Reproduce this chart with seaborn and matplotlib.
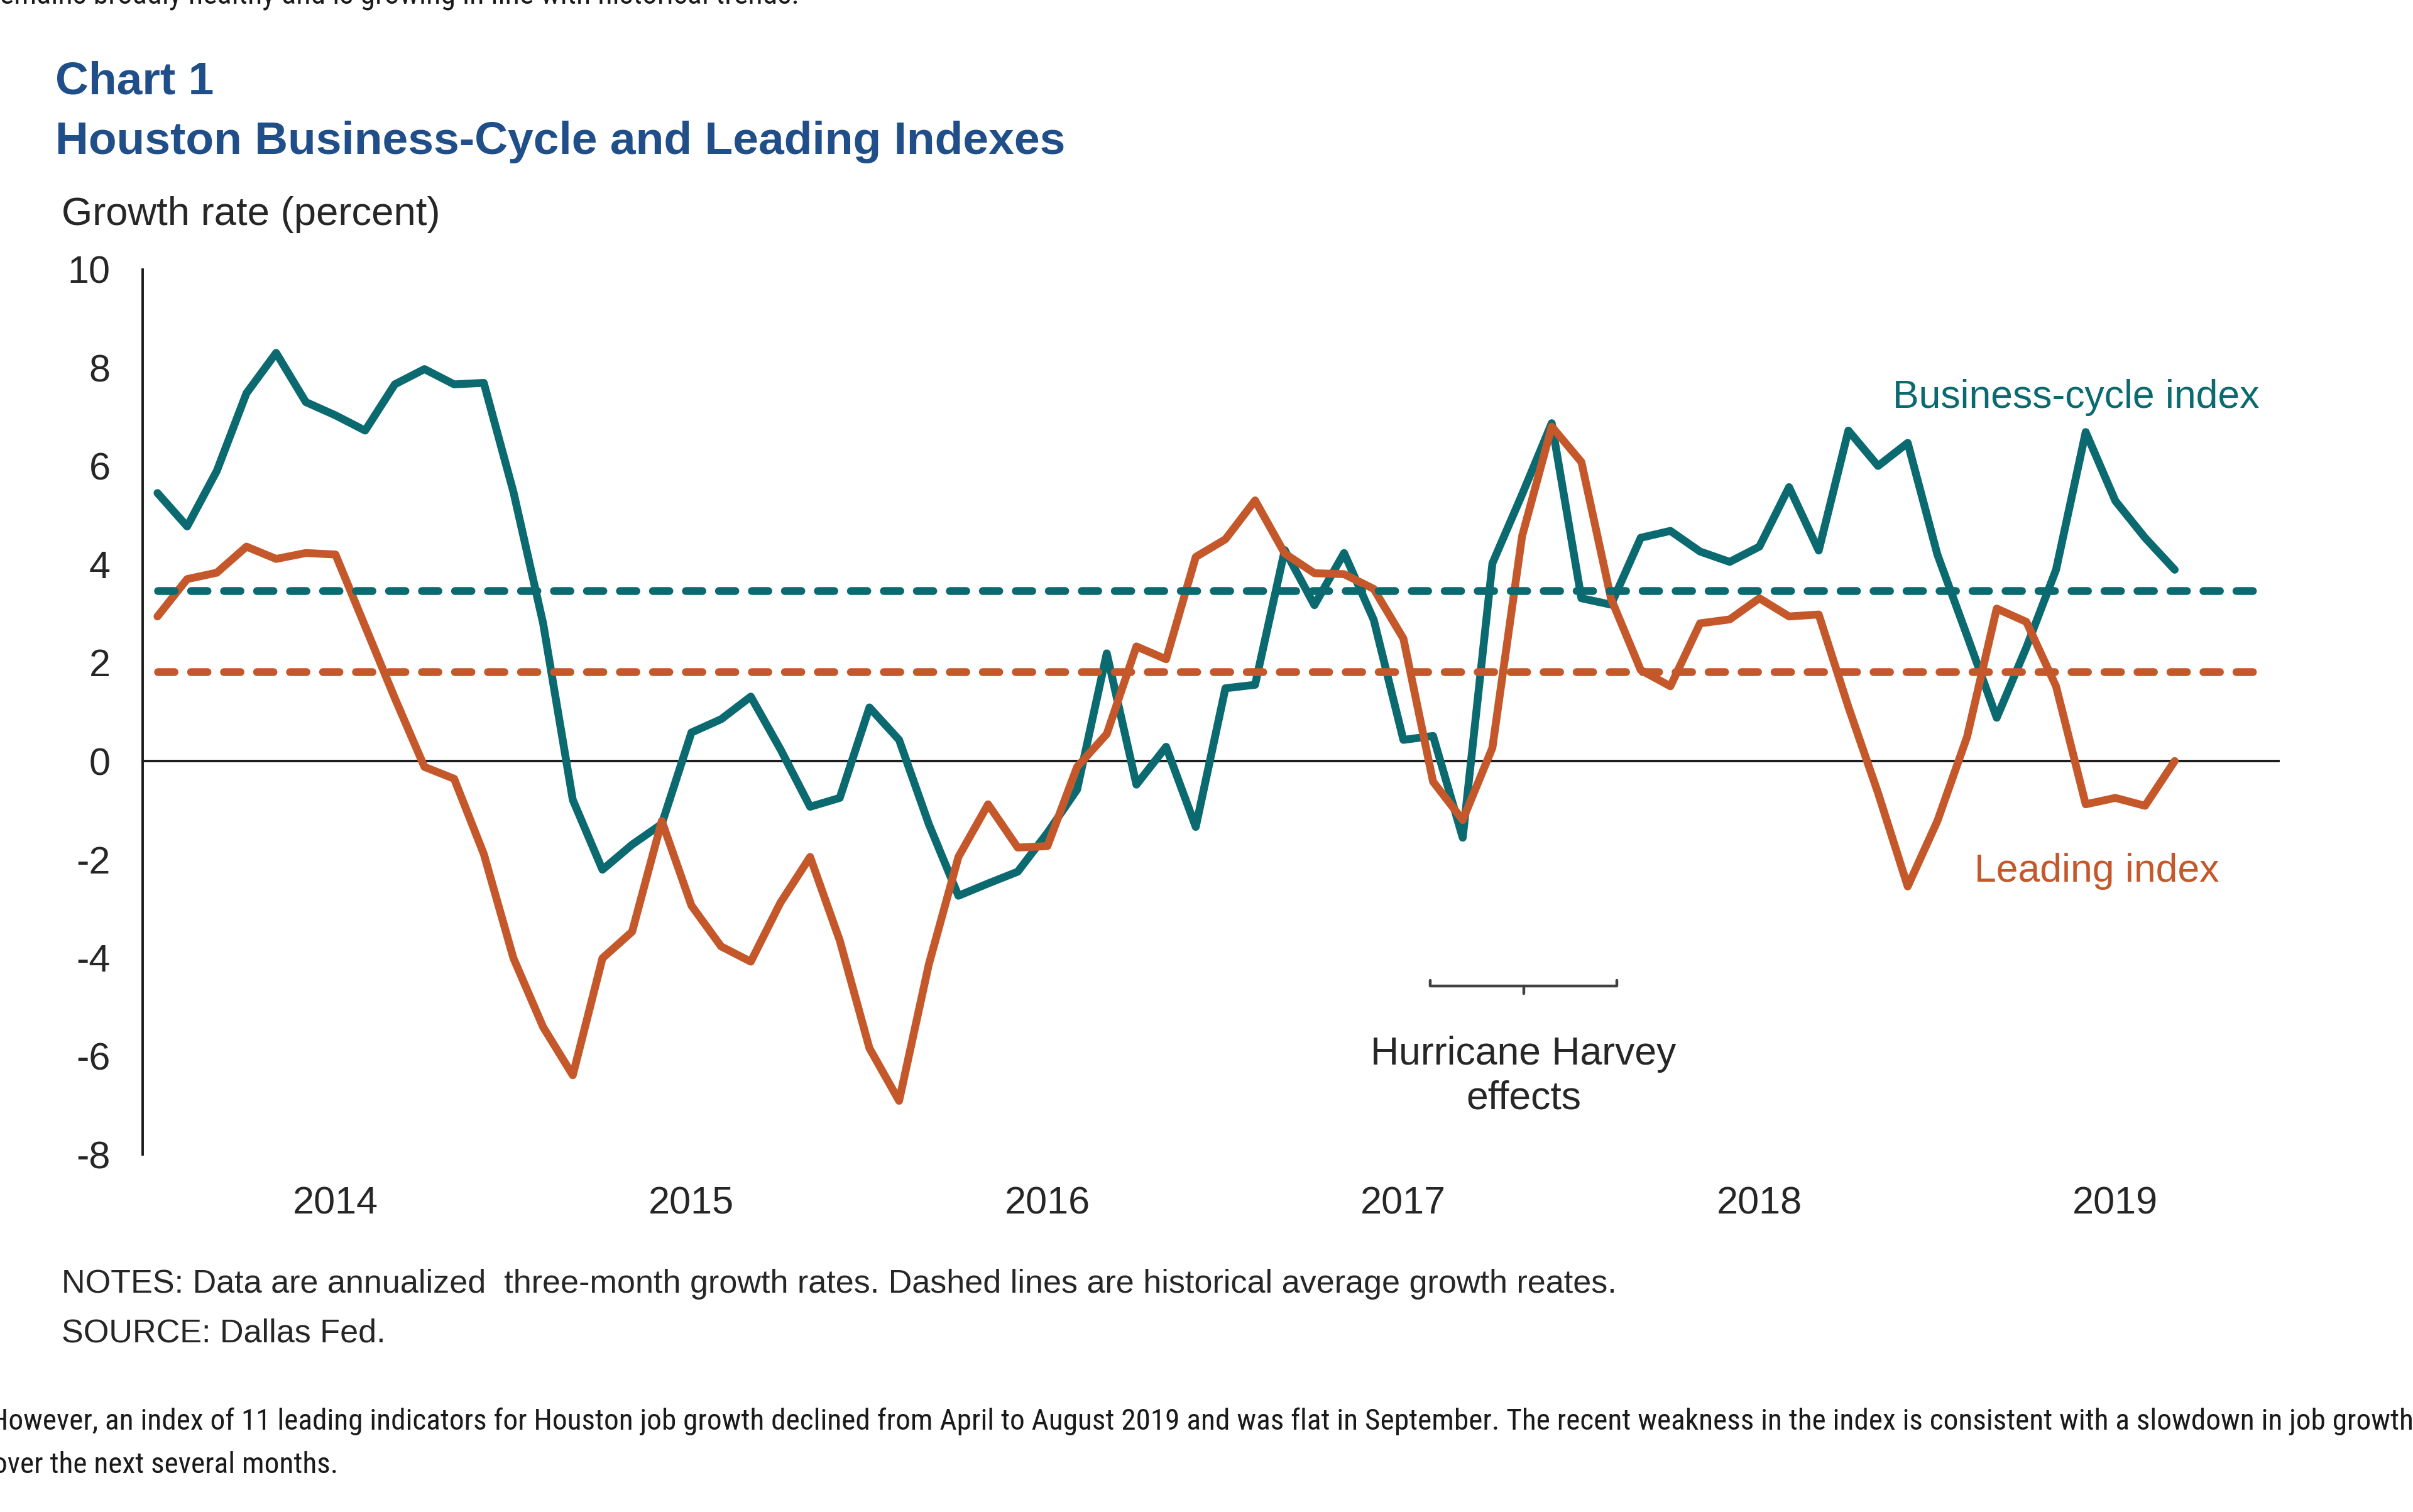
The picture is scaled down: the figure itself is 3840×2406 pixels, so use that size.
import numpy as np
import pandas as pd
import matplotlib
matplotlib.use("Agg")
import matplotlib.pyplot as plt
import matplotlib.font_manager as fm
import seaborn as sns

# ---------------- data (monthly, Jan 2014 - Sep 2019) ----------------
start_month = "2014-01"
business_cycle = [
    5.45, 4.77, 5.90, 7.48, 8.30, 7.30, 7.03, 6.72, 7.66, 7.97, 7.66, 7.69,
    5.47, 2.80, -0.79, -2.21, -1.70, -1.28, 0.58, 0.85, 1.31, 0.24, -0.93, -0.75,
    1.09, 0.43, -1.28, -2.74, -2.49, -2.25, -1.46, -0.58, 2.19, -0.48, 0.29, -1.34,
    1.48, 1.55, 4.29, 3.17, 4.23, 2.87, 0.43, 0.51, -1.56, 4.02, 5.42, 6.87,
    3.31, 3.18, 4.54, 4.68, 4.26, 4.05, 4.36, 5.57, 4.28, 6.72, 6.00, 6.47,
    4.20, 2.55, 0.88, 2.31, 3.89, 6.69, 5.29, 4.54, 3.89,
]
leading = [
    2.94, 3.70, 3.83, 4.36, 4.11, 4.23, 4.20, 2.74, 1.28, -0.12, -0.36, -1.89,
    -4.01, -5.41, -6.39, -4.01, -3.47, -1.22, -2.94, -3.77, -4.08, -2.88, -1.95, -3.65,
    -5.84, -6.91, -4.14, -1.95, -0.88, -1.76, -1.73, -0.12, 0.55, 2.33, 2.07, 4.15,
    4.51, 5.30, 4.22, 3.82, 3.80, 3.50, 2.49, -0.42, -1.20, 0.27, 4.57, 6.80,
    6.08, 3.30, 1.85, 1.52, 2.80, 2.88, 3.31, 2.94, 2.98, 1.10, -0.65, -2.55,
    -1.22, 0.49, 3.10, 2.83, 1.52, -0.88, -0.75, -0.91, 0.00,
]
business_cycle_avg = 3.46
leading_avg = 1.81
years = ["2014", "2015", "2016", "2017", "2018", "2019"]
y_ticks = [-8, -6, -4, -2, 0, 2, 4, 6, 8, 10]
harvey_start, harvey_end = 43.4, 49.7   # months from Jan 2014 (bracket span)

series_names = ["Business-cycle index", "Leading index"]
colors = {"Business-cycle index": "#0a6a70", "Leading index": "#c5582a"}
navy = "#1f4e89"
text_dark = "#262626"

# ---------------- figure ----------------
sns.set_style("white")
plt.rcParams["font.family"] = ["Liberation Sans", "DejaVu Sans"]
plt.rcParams["axes.unicode_minus"] = False

W, H, DPI = 3840, 2406, 200
fig = plt.figure(figsize=(W / DPI, H / DPI), dpi=DPI)
fig.patch.set_facecolor("white")

ax = fig.add_axes([227 / W, 1 - 1837 / H, (3626 - 227) / W, (1837 - 428.5) / H])
ax.set_facecolor("white")

n_months = len(business_cycle)
n_cat = 12 * len(years)
pos = np.arange(n_months) + 0.5
df = pd.DataFrame({"pos": pos,
                   "Business-cycle index": business_cycle,
                   "Leading index": leading})
long = df.melt(id_vars="pos", var_name="series", value_name="value")

LW = 4.5
sns.lineplot(data=long, x="pos", y="value", hue="series", hue_order=series_names,
             palette=colors, linewidth=LW, legend=False, ax=ax, zorder=3)
for ln in ax.lines:
    ln.set_solid_joinstyle("round")
    ln.set_solid_capstyle("round")

# historical averages (dashed)
x_first, x_last = 0.5, n_cat - 0.5
for val, name in [(business_cycle_avg, "Business-cycle index"), (leading_avg, "Leading index")]:
    ax.plot([x_first, x_last], [val, val], color=colors[name], lw=LW,
            dashes=(2.1, 2.1), dash_capstyle="round", zorder=4)

# axes styling
ax.set_xlim(0, n_cat)
ax.set_ylim(-8, 10)
for s in ["top", "right"]:
    ax.spines[s].set_visible(False)
ax.spines["bottom"].set_position(("data", 0))
for s in ["left", "bottom"]:
    ax.spines[s].set_color("#1a1a1a")
    ax.spines[s].set_linewidth(1.4)
ax.set_yticks(y_ticks)
ax.set_yticklabels([str(v) for v in y_ticks])
ax.set_xticks(np.arange(0, n_cat + 1, 12))
ax.tick_params(axis="x", direction="out", length=6, width=1.3, color="#1a1a1a",
               labelbottom=False)
ax.tick_params(axis="y", direction="out", length=6, width=1.3, color="#1a1a1a",
               labelsize=22, labelcolor=text_dark, pad=12.5)
ax.set_xlabel("")
ax.set_ylabel("")
ax.grid(False)

sec = ax.secondary_xaxis("bottom")
sec.set_xticks(np.arange(len(years)) * 12 + 6.5)
sec.set_xticklabels(years)
sec.tick_params(length=0, pad=18, labelsize=22, labelcolor=text_dark)
sec.spines["bottom"].set_visible(False)

# in-plot labels
ax.text(59.0, 7.18, "Business-cycle index", color=colors["Business-cycle index"],
        fontsize=22.5, ha="left", va="baseline")
ax.text(61.75, -2.45, "Leading index", color=colors["Leading index"],
        fontsize=22.5, ha="left", va="baseline")
mid = (harvey_start + harvey_end) / 2
by = -4.58
ax.plot([harvey_start, harvey_start, harvey_end, harvey_end],
        [by + 0.12, by, by, by + 0.12], color="#404040", lw=1.6,
        solid_joinstyle="round", zorder=3)
ax.plot([mid, mid], [by, by - 0.15], color="#404040", lw=1.6, zorder=3)
ax.text(mid, -6.17, "Hurricane Harvey", color=text_dark, fontsize=22.5,
        ha="center", va="baseline")
ax.text(mid, -7.07, "effects", color=text_dark, fontsize=22.5,
        ha="center", va="baseline")

# ---------------- page texts ----------------
renderer = fig.canvas.get_renderer()

# find a condensed / narrow face for the page body text
narrow_path = None
prefs = []
for f in fm.fontManager.ttflist:
    nm = f.name
    st = str(f.stretch)
    is_narrow = ("Narrow" in nm) or ("Condensed" in nm) or st in ("condensed", "semi-condensed", "extra-condensed")
    if is_narrow and f.style == "normal" and f.weight in (400, "normal", "regular", "book"):
        rank = 0 if "Liberation" in nm else (1 if "Open" in nm or "Noto" in nm or "Roboto" in nm else 2)
        prefs.append((rank, f.fname))
if prefs:
    prefs.sort()
    narrow_path = prefs[0][1]


def body_props(size):
    if narrow_path:
        return fm.FontProperties(fname=narrow_path, size=size)
    return fm.FontProperties(family=["Liberation Sans", "DejaVu Sans"], size=size)


def width_of(s, size, fp=None, **kw):
    if fp is not None:
        t = fig.text(0, 0, s, fontproperties=fp)
    else:
        t = fig.text(0, 0, s, fontsize=size, **kw)
    w = t.get_window_extent(renderer).width
    t.remove()
    return w


def fit_text(x_px, base_px, s, target_w, **kw):
    w = width_of(s, 20, **kw)
    size = 20 * target_w / w
    fig.text(x_px / W, 1 - base_px / H, s, fontsize=size, ha="left", va="baseline", **kw)
    return size


# cut-off line at the top of the page
top_full = "remains broadly healthy and is growing in line with historical trends."
top_rest = top_full[1:]
wf = width_of(top_full, 20, fp=body_props(20))
wr = width_of(top_rest, 20, fp=body_props(20))
sc = 1272 / wr
fig.text(-(wf - wr) * sc / W, 1 - 6 / H, top_full, fontproperties=body_props(20 * sc),
         color="#1a1a1a", ha="left", va="baseline")

# title
tsize = fit_text(88, 245, "Houston Business-Cycle and Leading Indexes", 1607,
                 fontweight="bold", color=navy)
fig.text(88 / W, 1 - 150 / H, "Chart 1", fontsize=tsize, fontweight="bold",
         color=navy, ha="left", va="baseline")

fit_text(98, 358, "Growth rate (percent)", 602, color=text_dark)

nsize = fit_text(98, 2057,
                 "NOTES: Data are annualized  three-month growth rates. Dashed lines are historical average growth reates.",
                 2476, color=text_dark)
fig.text(98 / W, 1 - 2136 / H, "SOURCE: Dallas Fed.", fontsize=nsize, color=text_dark,
         ha="left", va="baseline")

# paragraph below chart
p1 = ("However, an index of 11 leading indicators for Houston job growth declined from April "
      "to August 2019 and was flat in September. The recent weakness in the index is consistent "
      "with a slowdown in job growth")
p2 = "over the next several months."
w1 = width_of(p1, 20, fp=body_props(20))
wH = width_of("H", 20, fp=body_props(20))
wo = width_of("o", 20, fp=body_props(20))
sc = 3838 / (w1 - 0.55 * wH)
psize = 20 * sc
fig.text(-0.55 * wH * sc / W, 1 - 2275 / H, p1, fontproperties=body_props(psize),
         color="#1a1a1a", ha="left", va="baseline")
fig.text(-0.5 * wo * sc / W, 1 - 2344 / H, p2, fontproperties=body_props(psize),
         color="#1a1a1a", ha="left", va="baseline")

fig.savefig("out.png", dpi=DPI, facecolor="white")
